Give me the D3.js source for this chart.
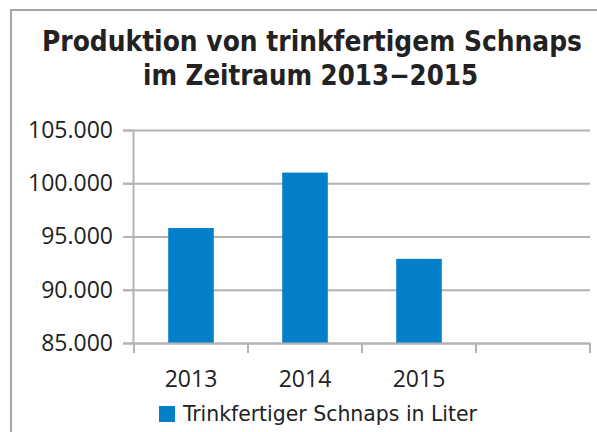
<!DOCTYPE html>
<html lang="de">
<head>
  <meta charset="UTF-8">
  <title>Produktion von trinkfertigem Schnaps</title>
  <script src="https://d3js.org/d3.v7.min.js"></script>
  <style>
    body { margin: 0; background: #fff; }
    .axis text { font-family: "Open Sans", sans-serif; font-size: 23px; fill: #222; }
    .title { font-family: "DejaVu Sans Condensed", "DejaVu Sans", sans-serif; font-weight: bold; font-size: 28px; fill: #222; }
    .legend text { font-family: "DejaVu Sans Condensed", "DejaVu Sans", sans-serif; font-size: 21px; fill: #222; }
  </style>
</head>
<body>
  <svg width="597" height="432"></svg>

  <script>
    const years = ["2013", "2014", "2015", ""];
    const liters = [95800, 101000, 92900, null];
    const yTicks = [85000, 90000, 95000, 100000, 105000];
    const titleLines = ["Produktion von trinkfertigem Schnaps", "im Zeitraum 2013−2015"];
    const seriesName = "Trinkfertiger Schnaps in Liter";

    const svg = d3.select("svg");
    const plot = {left: 133, right: 590, top: 130, bottom: 343};

    const de = d3.formatLocale({decimal: ",", thousands: ".", grouping: [3], currency: ["", " €"]});
    const fmt = de.format(",.0f");

    // outer chart frame
    svg.append("rect")
      .attr("x", 11).attr("y", 10)
      .attr("width", 600).attr("height", 440)
      .attr("fill", "none")
      .attr("stroke", "#a6a6a6")
      .attr("stroke-width", 2);

    // title
    const tl = [{x: 42, y: 51, len: 540}, {x: 143, y: 85, len: 335}];
    svg.selectAll(".title")
      .data(titleLines)
      .join("text")
        .attr("class", "title")
        .attr("x", (d, i) => tl[i].x)
        .attr("y", (d, i) => tl[i].y)
        .attr("textLength", (d, i) => tl[i].len)
        .attr("lengthAdjust", "spacingAndGlyphs")
        .text(d => d);

    const x = d3.scaleBand()
      .domain(years)
      .range([plot.left + 1, plot.right])
      .padding(0);

    const y = d3.scaleLinear()
      .domain([85000, 105000])
      .range([plot.bottom, plot.top]);

    // gridlines
    const grid = svg.append("g")
      .attr("transform", `translate(${plot.left - 10},0)`)
      .call(d3.axisRight(y).tickValues(yTicks).tickSize(plot.right - plot.left + 10).tickFormat(""));
    grid.select(".domain").remove();
    grid.selectAll("line").attr("stroke", "#b3b3b3").attr("stroke-width", 2);

    // bars
    const barW = x.bandwidth() * 0.4;
    svg.append("g")
      .selectAll("rect")
      .data(years.map((c, i) => ({c: c, v: liters[i]})).filter(d => d.v != null))
      .join("rect")
        .attr("x", d => x(d.c) + (x.bandwidth() - barW) / 2)
        .attr("y", d => y(d.v))
        .attr("width", barW)
        .attr("height", d => y(85000) - y(d.v))
        .attr("fill", "#0480cb");

    // y axis
    const yAxis = svg.append("g")
      .attr("class", "axis")
      .attr("transform", `translate(${plot.left},0)`)
      .call(d3.axisLeft(y).tickValues(yTicks).tickSize(10).tickSizeOuter(0).tickPadding(10).tickFormat(fmt));
    yAxis.selectAll("line, path").attr("stroke", "#b3b3b3").attr("stroke-width", 2);

    // x axis
    const xAxis = svg.append("g")
      .attr("class", "axis")
      .attr("transform", `translate(0,${plot.bottom})`)
      .call(d3.axisBottom(x).tickSize(0).tickSizeOuter(0).tickPadding(28));
    xAxis.select(".domain").attr("stroke", "#b3b3b3").attr("stroke-width", 2);
    xAxis.selectAll(".tick").filter(d => d === "").remove();

    const bounds = years.map(c => x(c)).concat([plot.right]);
    xAxis.selectAll(".sep")
      .data(bounds)
      .join("line")
        .attr("class", "sep")
        .attr("x1", d => d).attr("x2", d => d)
        .attr("y1", 0).attr("y2", 10)
        .attr("stroke", "#b3b3b3")
        .attr("stroke-width", 2);

    // legend
    const legend = svg.append("g").attr("class", "legend")
      .attr("transform", "translate(159,406)");
    legend.append("rect")
      .attr("width", 16).attr("height", 16)
      .attr("fill", "#0480cb");
    legend.append("text")
      .attr("x", 24).attr("y", 15)
      .attr("textLength", 294)
      .attr("lengthAdjust", "spacingAndGlyphs")
      .text(seriesName);
  </script>
</body>
</html>
